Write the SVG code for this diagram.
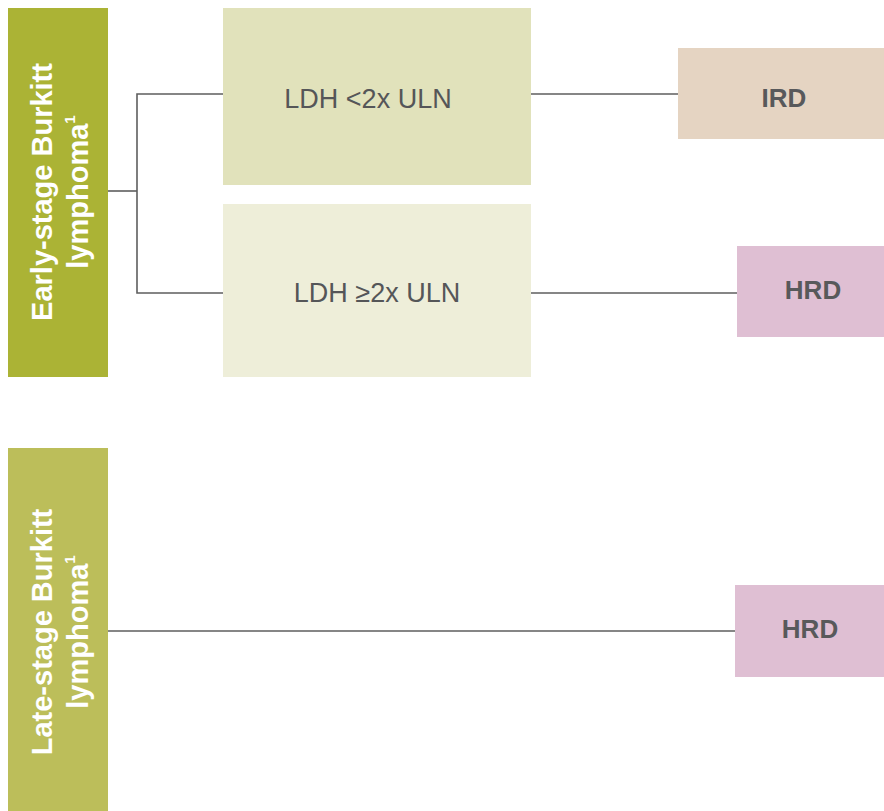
<svg xmlns="http://www.w3.org/2000/svg" width="884" height="811" viewBox="0 0 884 811">
  <style>
    .side { font-family: "Liberation Sans", Arial, sans-serif; font-weight: bold; font-size: 29px; fill: #ffffff; text-anchor: middle; }
    .sup { font-size: 15px; }
    .ldh { font-family: "Liberation Sans", Arial, sans-serif; font-size: 27px; fill: #555658; text-anchor: middle; }
    .risk { font-family: "Liberation Sans", Arial, sans-serif; font-weight: bold; font-size: 26px; fill: #58595b; text-anchor: middle; }
    .conn { fill: none; stroke: #5e5e5e; stroke-width: 1.6; }
  </style>
  <rect width="884" height="811" fill="#ffffff"/>

  <!-- connectors -->
  <g id="connectors">
    <polyline class="conn" points="108,191 137,191"/>
    <polyline class="conn" points="223,94 137,94 137,293 223,293"/>
    <line class="conn" x1="531" y1="94" x2="678" y2="94"/>
    <line class="conn" x1="531" y1="293" x2="737" y2="293"/>
    <line class="conn" x1="108" y1="631" x2="735" y2="631"/>
  </g>

  <!-- stage boxes -->
  <g id="early-stage">
    <rect x="8" y="8" width="100" height="369" fill="#abb335"/>
    <g transform="translate(0,192) rotate(-90)">
      <text class="side" x="0" y="52">Early-stage Burkitt</text>
      <text class="side" x="0" y="88">lymphoma<tspan class="sup" dy="-13">1</tspan></text>
    </g>
  </g>
  <g id="late-stage">
    <rect x="8" y="448" width="100" height="363" fill="#bcbe5a"/>
    <g transform="translate(0,632) rotate(-90)">
      <text class="side" x="0" y="52">Late-stage Burkitt</text>
      <text class="side" x="0" y="88">lymphoma<tspan class="sup" dy="-13">1</tspan></text>
    </g>
  </g>

  <!-- LDH boxes -->
  <g id="ldh-low">
    <rect x="223" y="8" width="308" height="177" fill="#e1e2bb"/>
    <text class="ldh" x="368" y="108">LDH &lt;2x ULN</text>
  </g>
  <g id="ldh-high">
    <rect x="223" y="204" width="308" height="173" fill="#eeeed9"/>
    <text class="ldh" x="377" y="302">LDH ≥2x ULN</text>
  </g>

  <!-- risk outcomes -->
  <g id="ird">
    <rect x="678" y="48" width="206" height="91" fill="#e5d4c2"/>
    <text class="risk" x="784" y="107">IRD</text>
  </g>
  <g id="hrd-early">
    <rect x="737" y="246" width="147" height="91" fill="#dfbfd3"/>
    <text class="risk" x="813" y="299">HRD</text>
  </g>
  <g id="hrd-late">
    <rect x="735" y="585" width="149" height="92" fill="#dfbfd3"/>
    <text class="risk" x="810" y="638">HRD</text>
  </g>
</svg>
